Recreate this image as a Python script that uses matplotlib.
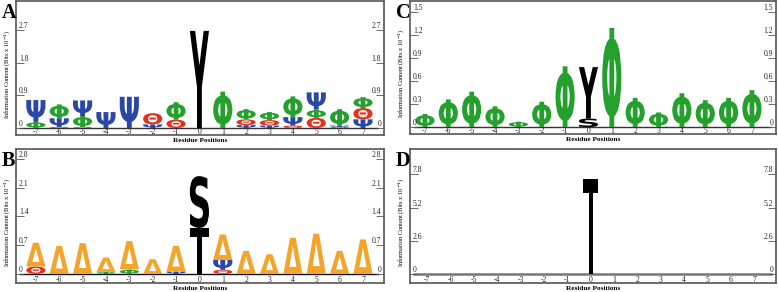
import matplotlib
matplotlib.use("Agg")
from matplotlib import pyplot as plt
from matplotlib.textpath import TextPath
from matplotlib.font_manager import FontProperties
from matplotlib.patches import PathPatch
from matplotlib.path import Path
from matplotlib.transforms import Affine2D

W, H = 778, 292

positions = list(range(-7, 8))

# stacks per position, bottom to top: (symbol, height)
logo_a = [
    [("Φ", 0.17), ("Ψ", 0.60)],
    [("Θ", 0.03), ("Ψ", 0.24), ("Φ", 0.38)],
    [("Θ", 0.03), ("Φ", 0.30), ("Ψ", 0.43)],
    [("Ψ", 0.44)],
    [("Ψ", 0.86)],
    [("Ψ", 0.10), ("Θ", 0.31)],
    [("Θ", 0.23), ("Φ", 0.48)],
    [("Y", 2.67)],
    [("Φ", 1.00)],
    [("Ψ", 0.08), ("Θ", 0.16), ("Φ", 0.28)],
    [("Ψ", 0.07), ("Θ", 0.15), ("Φ", 0.22)],
    [("Θ", 0.07), ("Ψ", 0.23), ("Φ", 0.57)],
    [("Θ", 0.28), ("Φ", 0.23), ("Ψ", 0.47)],
    [("Θ", 0.03), ("Ψ", 0.04), ("Φ", 0.45)],
    [("Ψ", 0.24), ("Θ", 0.31), ("Φ", 0.30)],
]

logo_b = [
    [("Θ", 0.18), ("Δ", 0.58)],
    [("Δ", 0.68)],
    [("Δ", 0.75)],
    [("Φ", 0.05), ("Δ", 0.35)],
    [("Φ", 0.11), ("Δ", 0.69)],
    [("Δ", 0.36)],
    [("Ψ", 0.06), ("Δ", 0.62)],
    [("T", 1.12), ("S", 1.26)],
    [("Θ", 0.10), ("Ψ", 0.24), ("Δ", 0.62)],
    [("Δ", 0.56)],
    [("Δ", 0.48)],
    [("Δ", 0.88)],
    [("Δ", 0.98)],
    [("Δ", 0.56)],
    [("Δ", 0.84)],
]

logo_c = [
    [("Φ", 0.17)],
    [("Φ", 0.36)],
    [("Φ", 0.46)],
    [("Φ", 0.27)],
    [("Φ", 0.07)],
    [("Φ", 0.33)],
    [("Φ", 0.79)],
    [("S", 0.11), ("Y", 0.67)],
    [("Φ", 1.29)],
    [("Φ", 0.38)],
    [("Φ", 0.19)],
    [("Φ", 0.44)],
    [("Φ", 0.35)],
    [("Φ", 0.38)],
    [("Φ", 0.48)],
]

logo_d = [[] for _ in positions]
logo_d[7] = [("pin", 7.46)]

yticks_a = [0, 0.9, 1.8, 2.7]
yticks_b = [0, 0.7, 1.4, 2.1, 2.8]
yticks_c = [0, 0.3, 0.6, 0.9, 1.2, 1.5]
yticks_d = [0, 2.6, 5.2, 7.8]

colors = {"Ψ": "#2a47a8", "Φ": "#24a02c", "Θ": "#e2321f", "Δ": "#f4a42a",
          "Y": "black", "S": "black", "T": "black", "pin": "black"}

FP = FontProperties(family="DejaVu Sans", weight="bold")
SERIF = "Liberation Serif"


def pin_path():
    # stem with a filled square on top, in a unit box
    verts, codes = [], []
    for x0, y0, x1, y1 in [(0.375, 0, 0.625, 0.85), (0, 0.845, 1, 1)]:
        verts += [(x0, y0), (x1, y0), (x1, y1), (x0, y1), (x0, y0)]
        codes += [Path.MOVETO, Path.LINETO, Path.LINETO, Path.LINETO, Path.CLOSEPOLY]
    return Path(verts, codes)


def glyph(ax, ch, x, y0, h, w):
    if ch == "pin":
        p = pin_path()
        bx0, by0, bw, bh = 0, 0, 1, 1
    else:
        p = TextPath((0, 0), ch, size=1, prop=FP)
        bb = p.get_extents()
        bx0, by0, bw, bh = bb.x0, bb.y0, bb.width, bb.height
    t = Affine2D().translate(-bx0, -by0).scale(w / bw, h / bh).translate(x - w / 2, y0)
    ax.add_patch(PathPatch(t.transform_path(p), fc=colors[ch], ec="none", lw=0))


def fig_rect(l, t, r, b):
    return [l / W, 1 - b / H, (r - l) / W, (b - t) / H]


def panel(rect, logo, yticks, xlim, ylim, letter, base_color="#333333", base_lw=1.0,
          width=0.82):
    ax = fig.add_axes(fig_rect(*rect))
    for x, stack in zip(positions, logo):
        y = 0
        for ch, h in stack:
            w = 0.68 if ch == "pin" else width
            glyph(ax, ch, x, y, h, w)
            y += h
    ax.axhline(0, xmin=0.012, xmax=0.985, color=base_color, lw=base_lw, zorder=0)
    ax.set_xlim(*xlim)
    ax.set_ylim(*ylim)
    ax.set_xticks(positions)
    ax.set_xticklabels([str(p) for p in positions])
    ax.set_yticks(yticks)
    ax.set_yticklabels(["0" if v == 0 else f"{v:.1f}" for v in yticks])
    ax.tick_params(axis="x", length=0, pad=-5.2, labelsize=5.5, labelcolor="#222222")
    ax.tick_params(axis="y", direction="in", length=6, width=0.6, color="#555555",
                   left=True, right=True, labelleft=True, labelright=True,
                   pad=-2, labelsize=5.5, labelcolor="#222222")
    for lab in ax.get_xticklabels() + ax.get_yticklabels():
        lab.set_fontfamily(SERIF)
    plt.setp(ax.yaxis.get_ticklabels(which="major"), va="bottom")
    for t in ax.yaxis.get_major_ticks():
        t.label1.set_ha("left")
        t.label2.set_ha("right")
        t.label1.set_va("bottom")
        t.label2.set_va("bottom")
    for s in ax.spines.values():
        s.set_color("#555555")
        s.set_linewidth(1.2)
    l, t, r, b = rect
    fig.text((l - 14) / W, 1 - (t + 12) / H, letter, fontsize=14.5, fontweight="bold",
             family=SERIF, ha="left", va="center")
    fig.text((l - 9) / W, 1 - ((t + b) / 2 + 6) / H, "Information Content (Bits x 10$^{-1}$)",
             rotation=90, fontsize=4.6, family=SERIF, ha="center", va="center")
    fig.text((l + r) / 2 / W, 1 - (b + 5.5) / H, "Residue Positions", fontsize=5.2,
             family=SERIF, fontweight="bold", ha="center", va="center")
    return ax


fig = plt.figure(figsize=(W / 100, H / 100), dpi=100)

panel((16, 1, 384, 135), logo_a, yticks_a, (-7.85, 7.9), (-0.19, 3.49), "A")
panel((410, 1, 776, 134), logo_c, yticks_c, (-7.64, 8.03), (-0.09, 1.64), "C")
panel((16, 149, 384, 283), logo_b, yticks_b, (-7.85, 7.9), (-0.22, 3.04), "B",
      base_color="#111111")
panel((410, 149, 776, 283), logo_d, yticks_d, (-7.73, 7.94), (-0.69, 9.77), "D",
      base_color="#777777", base_lw=1.8)

plt.savefig("out.png", dpi=100)
plt.close()
